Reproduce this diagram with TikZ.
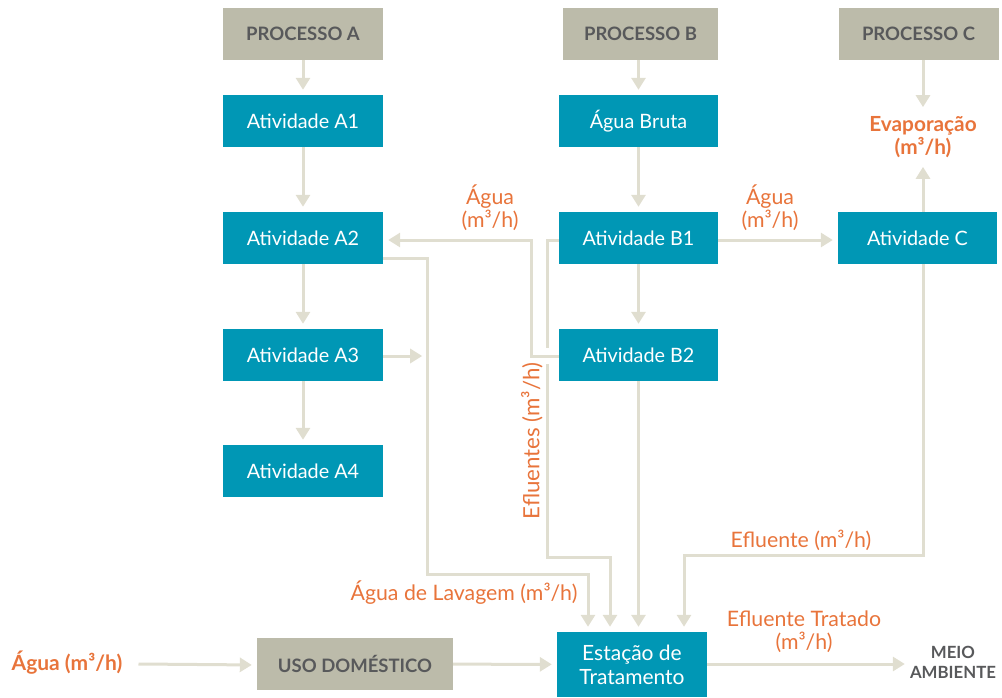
\documentclass[tikz,border=0pt]{standalone}
\usepackage{fontspec}
\setmainfont{Lato}
\usetikzlibrary{arrows.meta}
\definecolor{teal}{HTML}{0097B5}
\definecolor{grayb}{HTML}{BCBBAA}
\definecolor{linec}{HTML}{E0DED0}
\definecolor{orng}{HTML}{E8743B}
\definecolor{dgray}{HTML}{58595B}
\tikzset{
  tbox/.style={fill=teal, text=white, minimum width=160pt, minimum height=52pt, inner sep=0pt, font=\fontsize{19.8}{24}\selectfont, align=center},
  gbox/.style={fill=grayb, text=dgray, minimum width=160pt, minimum height=52pt, inner sep=0pt, font=\fontsize{18.5}{22}\selectfont\bfseries},
  lbl/.style={text=orng, font=\fontsize{21.3}{23}\selectfont, align=center, inner sep=0pt},
  conn/.style={draw=linec, line width=3pt},
  arr/.style={conn, -{Triangle[width=14pt,length=12pt]}, shorten >=5pt},
}
\begin{document}
\begin{tikzpicture}[x=1pt,y=-1pt]
\useasboundingbox (0,0) rectangle (1002,698);
% boxes
\node[gbox] (PA) at (303,34) {PROCESSO A};
\node[gbox, minimum width=155pt] (PB) at (640.5,34) {PROCESSO B};
\node[gbox] (PC) at (918.5,34) {PROCESSO C};
\node[tbox] (A1) at (303,121) {Atividade A1};
\node[tbox, minimum width=159pt] (AB) at (638.5,121) {Água Bruta};
\node[tbox] (A2) at (303,238) {Atividade A2};
\node[tbox, minimum width=159pt] (B1) at (638.5,238) {Atividade B1};
\node[tbox, minimum width=159pt] (C) at (917.5,238) {Atividade C};
\node[tbox] (A3) at (303,355) {Atividade A3};
\node[tbox, minimum width=159pt] (B2) at (638.5,355) {Atividade B2};
\node[tbox] (A4) at (303,471) {Atividade A4};
\node[tbox, minimum width=150pt, minimum height=65pt, font=\fontsize{21}{24}\selectfont] (E) at (632,664.5) {Estação de\\Tratamento};
\node[gbox, minimum width=196pt] (U) at (355,664) {USO DOMÉSTICO};
% labels
\node[lbl, font=\fontsize{21}{23}\selectfont\bfseries] (aguaL) at (67,663) {Água (m³/h)};
\node[lbl, font=\fontsize{20.8}{23}\selectfont\bfseries, inner ysep=4pt] (evap) at (923,137) {Evaporação\\(m³/h)};
\node[lbl] (agA) at (490,208) {Água\\(m³/h)};
\node[lbl] (agC) at (770,208) {Água\\(m³/h)};
\node[lbl, rotate=90, font=\fontsize{22.3}{23}\selectfont] (efl) at (532,441) {Efluentes (m³/h)};
\node[lbl] (lav) at (464,593) {Água de Lavagem (m³/h)};
\node[lbl] (eflC) at (801,540) {Efluente (m³/h)};
\node[lbl] (eflT) at (804,632) {Efluente Tratado\\(m³/h)};
\node[text=dgray, font=\fontsize{16.8}{20}\selectfont\bfseries, align=center, inner sep=0pt] (meio) at (953,662) {MEIO\\AMBIENTE};
% vertical chains
\draw[arr] (PA) -- (A1);
\draw[arr] (A1) -- (A2);
\draw[arr] (A2) -- (A3);
\draw[arr] (A3) -- (A4);
\draw[arr] (PB.south -| AB) -- (AB);
\draw[arr] (AB) -- (B1);
\draw[arr] (B1) -- (B2);
\draw[arr] (PC.south -| evap) -- (evap.north);
\draw[arr] (C.north -| evap) -- (evap.south);
\draw[arr] ([yshift=-2pt]B1.east) -- ([yshift=-2pt]C.west);
% Efluentes from B1
\draw[arr] ([yshift=-2pt]B1.west) -- ++(-11,0) coordinate (eb) -- (eb |- 0,557) -- ([xshift=-22pt]E.north |- 0,557) -- ([xshift=-22pt]E.north);
% gap for crossing
\draw[white, line width=16pt] ([yshift=-1pt]B2.west) -- ++(-14,0);
% Agua from B2 to A2
\draw[arr] ([yshift=-1pt]B2.west) -- ++(-27,0) coordinate (b2c) -- (b2c |- 0,240) -- ([yshift=-2pt]A2.east);
% Agua de lavagem
\draw[arr] ([yshift=-20pt]A2.east) -- ++(44,0) coordinate (lv) -- (lv |- 0,574) -- ([xshift=-44pt]E.north |- 0,574) -- ([xshift=-44pt]E.north);
\draw[arr] ([yshift=-1pt]A3.east) -- (lv |- 0,356);
% B2 to E
\draw[arr] (B2.south) -- (B2.south |- E.north);
% C to E
\draw[arr] (C.south -| evap) -- (evap |- 0,555) -- ([xshift=52pt]E.north |- 0,555) -- ([xshift=52pt]E.north);
% bottom row
\draw[arr] (aguaL.east) ++(16,1) -- ([yshift=-1pt]U.west);
\draw[arr] (U) -- (E);
\draw[arr] (E.east |- U) -- (meio.west |- U);
\end{tikzpicture}
\end{document}
